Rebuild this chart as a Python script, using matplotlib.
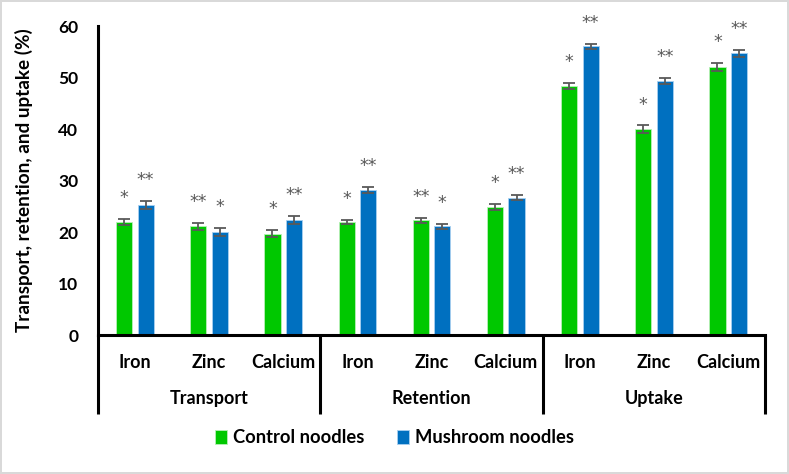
import matplotlib
matplotlib.use("Agg")
import matplotlib.pyplot as plt
import matplotlib.transforms as mtransforms
import numpy as np

plt.rcParams['font.family'] = ['Lato', 'DejaVu Sans']

groups = ["Transport", "Retention", "Uptake"]
minerals = ["Iron", "Zinc", "Calcium"]
control = [21.9, 21.1, 19.7, 22.0, 22.3, 24.8, 48.4, 40.0, 52.1]
mushroom = [25.2, 20.0, 22.3, 28.1, 21.1, 26.7, 56.1, 49.3, 54.7]
control_err = [0.6, 0.7, 0.7, 0.4, 0.5, 0.6, 0.6, 0.7, 0.8]
mushroom_err = [0.8, 0.8, 0.8, 0.6, 0.5, 0.5, 0.5, 0.6, 0.7]
control_sig = ["*", "**", "*", "*", "**", "*", "*", "*", "*"]
mushroom_sig = ["**", "*", "**", "**", "*", "**", "**", "**", "**"]

green = "#00C800"
blue = "#0070C0"

fig = plt.figure(figsize=(7.89, 4.74), dpi=100)
fig.patch.set_edgecolor("#d9d9d9")
fig.patch.set_linewidth(1.5)
ax = fig.add_axes([0.124, 0.293, 0.846, 0.652])

x = np.arange(len(control))
w = 0.22
off = 0.145
ekw = dict(ecolor="#595959", elinewidth=1.3, capsize=4, capthick=1.3)
ax.bar(x - off, control, w, yerr=control_err, color=green, edgecolor="#b8f0b8",
       linewidth=0.6, error_kw=ekw, label="Control noodles")
ax.bar(x + off, mushroom, w, yerr=mushroom_err, color=blue, edgecolor="#a8d0f0",
       linewidth=0.6, error_kw=ekw, label="Mushroom noodles")

# significance marks
for i in range(len(control)):
    ax.annotate(control_sig[i], (x[i] - off, control[i] + control_err[i]),
                xytext=(0, 15), textcoords="offset points", ha="center", va="center",
                fontsize=12.5, color="#595959", family="DejaVu Sans")
    ax.annotate(mushroom_sig[i], (x[i] + off, mushroom[i] + mushroom_err[i]),
                xytext=(0, 15), textcoords="offset points", ha="center", va="center",
                fontsize=12.5, color="#595959", family="DejaVu Sans")

ax.set_xlim(-0.5, len(control) - 0.5)
ax.set_ylim(0, 60)
ax.set_yticks(range(0, 61, 10))
ax.tick_params(axis="y", length=0, labelsize=12.5, pad=14)
ax.tick_params(axis="x", length=0, labelbottom=False)
for lab in ax.get_yticklabels():
    lab.set_fontweight("bold")
ax.spines["top"].set_visible(False)
ax.spines["right"].set_visible(False)
ax.spines["left"].set_linewidth(2.2)
ax.spines["bottom"].set_linewidth(2.2)
ax.set_ylabel("Transport, retention, and uptake (%)", fontsize=13.6, fontweight="bold")
ax.yaxis.set_label_coords(-0.097, 0.5)

# two-level category axis
trans = mtransforms.blended_transform_factory(ax.transData, ax.transAxes)
for i, m in enumerate(minerals * len(groups)):
    ax.text(x[i], -0.087, m, transform=trans, ha="center", va="center",
            fontsize=13, fontweight="bold")
for g, name in enumerate(groups):
    ax.text(g * 3 + 1, -0.204, name, transform=trans, ha="center", va="center",
            fontsize=13, fontweight="bold")
for b in [-0.5, 2.5, 5.5, 8.5]:
    ax.plot([b, b], [0, -0.255], transform=trans, color="black", lw=2.2,
            clip_on=False, solid_capstyle="butt")

fig.legend(loc="center", bbox_to_anchor=(0.5, 0.076), ncol=2, frameon=False,
           prop={"weight": "bold", "size": 13.2}, handlelength=0.65, handleheight=0.75,
           handletextpad=0.3, columnspacing=1.8)

fig.savefig("out.png", dpi=100)
